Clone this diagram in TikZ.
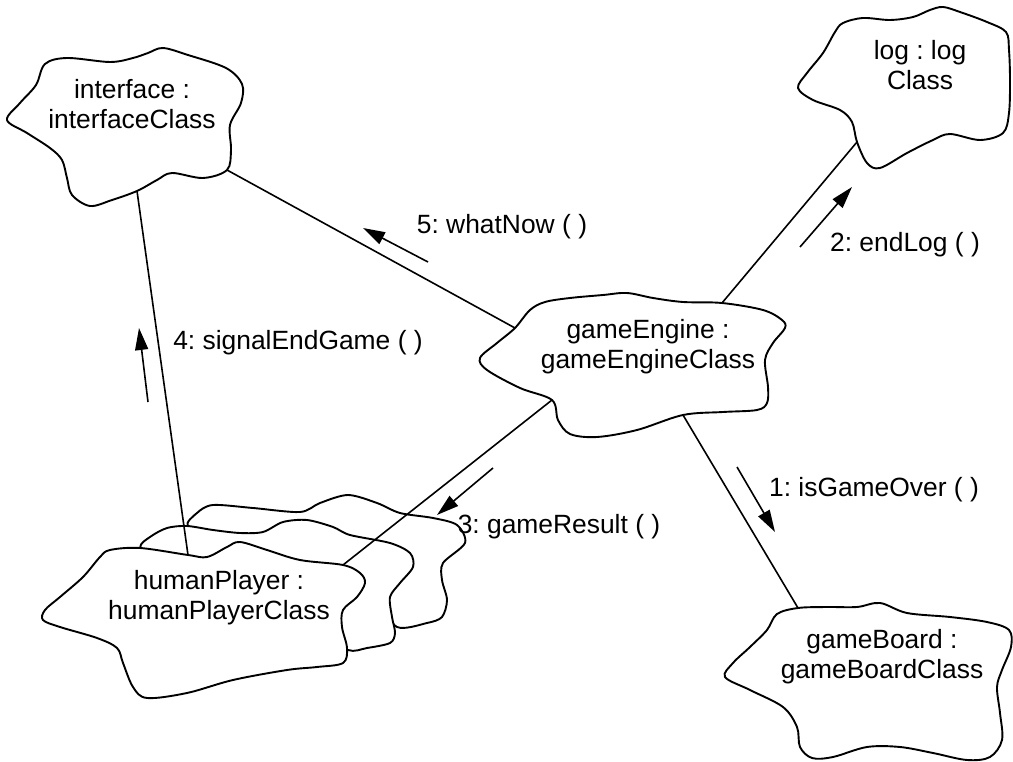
\documentclass[tikz,border=0pt]{standalone}
\usepackage{fontspec}
\setmainfont{Liberation Sans}
\usetikzlibrary{arrows.meta}
\frenchspacing
\tikzset{
  cloud/.style={draw=black, fill=white, line width=1.9pt, line join=round},
  conn/.style={draw=black, line width=1.6pt},
  msg/.style={draw=black, line width=1.6pt, -{Triangle[length=22pt,width=13pt]}},
  lbl/.style={font=\fontsize{26.4}{30}\selectfont, align=center, inner sep=0pt},
}
\begin{document}
\begin{tikzpicture}[x=1pt,y=-1pt]
\useasboundingbox (0,0) rectangle (1013,762);
% interface cloud
\draw[cloud] plot[smooth cycle, tension=0.55] coordinates {(7,120) (27,133) (50,148) (62,160) (67,178) (72,195) (90,206) (112,200) (137,191) (157,180) (172,173) (203,178) (227,170) (231,150) (230,125) (241,103) (242,84) (226,68) (188,55) (163,48) (148,53) (133,58) (110,62) (67,58) (45,64) (36,85) (20,103)};
\node[lbl] (iface) at (132,104) {interface :\\interfaceClass};
% log cloud
\draw[cloud] plot[smooth cycle, tension=0.55] coordinates {(798,88) (813,100) (840,110) (852,122) (857,142) (867,163) (880,168) (907,153) (933,140) (950,134) (980,140) (1003,133) (1009,113) (1010,80) (1009,50) (1006,32) (987,22) (960,12) (943,7) (930,10) (913,17) (890,20) (863,18) (843,23) (835,32) (823,53) (807,73)};
\node[lbl] (log) at (920,65) {log : log\\Class};
% gameEngine cloud
\draw[cloud] plot[smooth cycle, tension=0.55] coordinates {(480,358) (497,343) (515,328) (530,310) (545,302) (570,298) (603,295) (627,293) (653,298) (683,302) (722,303) (763,310) (782,320) (785,328) (773,343) (765,360) (768,387) (767,403) (757,410) (723,412) (683,415) (637,430) (597,437) (570,434) (558,420) (552,400) (520,388) (487,370)};
\node[lbl] (engine) at (648,347) {gameEngine :\\gameEngineClass};
% gameBoard cloud
\draw[cloud] plot[smooth cycle, tension=0.55] coordinates {(798,608) (777,614) (767,630) (750,647) (733,663) (725,677) (750,690) (783,707) (797,727) (800,747) (812,758) (833,757) (867,747) (900,747) (933,753) (967,760) (990,757) (1002,740) (1000,713) (997,687) (1002,670) (1011,647) (1009,630) (987,622) (950,617) (907,613) (880,603) (857,607) (827,607)};
\node[lbl] (board) at (882,657) {gameBoard :\\gameBoardClass};
% humanPlayer stacked clouds (back, middle, front)
\draw[cloud] plot[smooth cycle, tension=0.5] coordinates {(188,527) (197,513) (213,505) (253,508) (300,512) (320,503) (348,495) (377,503) (400,513) (433,518) (457,525) (465,543) (443,563) (442,580) (447,600) (442,617) (427,623) (397,627) (375,600) (300,565) (220,548)};
\draw[cloud] plot[smooth cycle, tension=0.5] coordinates {(140,548) (150,537) (167,528) (187,526) (213,530) (240,533) (263,532) (283,522) (307,520) (333,527) (350,535) (390,543) (410,553) (413,567) (400,583) (390,597) (392,617) (395,633) (390,643) (367,648) (348,650) (320,630) (220,600) (150,575)};
\draw[cloud] plot[smooth cycle, tension=0.55] coordinates {(100,557) (110,550) (140,548) (188,555) (207,557) (227,547) (240,542) (267,550) (300,560) (343,565) (360,573) (365,583) (357,597) (343,610) (342,627) (347,648) (343,663) (317,667) (287,670) (233,680) (187,693) (147,698) (133,687) (123,663) (117,648) (97,638) (60,627) (43,620) (45,610) (60,597) (83,577)};
\node[lbl] (human) at (219,598) {humanPlayer :\\humanPlayerClass};
% attachment points
\coordinate (ifaceA) at (137,191);
\coordinate (ifaceB) at (227,170);
\coordinate (logA) at (857,142);
\coordinate (engA) at (515,328);
\coordinate (engB) at (722,303);
\coordinate (engC) at (683,415);
\coordinate (engD) at (552,400);
\coordinate (boardA) at (798,608);
\coordinate (humanA) at (188,555);
\coordinate (humanB) at (343,565);
% links
\draw[conn] (ifaceA) -- (humanA);
\draw[conn] (ifaceB) -- (engA);
\draw[conn] (logA) -- (engB);
\draw[conn] (engC) -- (boardA);
\draw[conn] (engD) -- (humanB);
% messages
\coordinate (m1s) at (737,467); \coordinate (m1e) at (775,532);
\coordinate (m2s) at (800,247); \coordinate (m2e) at (852,187);
\coordinate (m3s) at (493,468); \coordinate (m3e) at (437,515);
\coordinate (m4s) at (148,402); \coordinate (m4e) at (139,328);
\coordinate (m5s) at (428,262); \coordinate (m5e) at (363,228);
\draw[msg] (m1s) -- (m1e);
\draw[msg] (m2s) -- (m2e);
\draw[msg] (m3s) -- (m3e);
\draw[msg] (m4s) -- (m4e);
\draw[msg] (m5s) -- (m5e);
\node[lbl] (l1) at (874,490) {1: isGameOver ( )};
\node[lbl] (l2) at (905,245) {2: endLog ( )};
\node[lbl] (l3) at (559,527) {3: gameResult ( )};
\node[lbl] (l4) at (298,343) {4: signalEndGame ( )};
\node[lbl] (l5) at (502,227) {5: whatNow ( )};
\end{tikzpicture}
\end{document}
